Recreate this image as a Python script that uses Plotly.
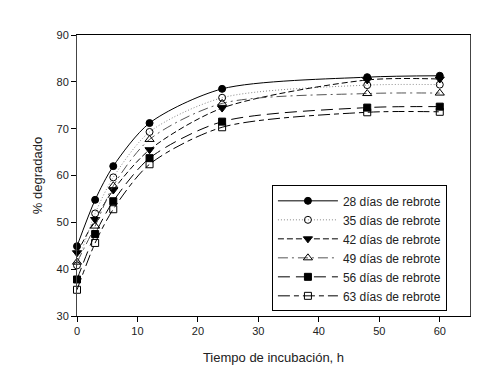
import plotly.graph_objects as go

tiempo = [0, 3, 6, 12, 24, 48, 60]
d28 = [44.9, 54.8, 62.0, 71.2, 78.5, 81.0, 81.3]
d35 = [40.8, 51.9, 59.6, 69.3, 76.6, 79.3, 79.4]
d42 = [43.5, 50.6, 56.9, 65.5, 74.4, 80.4, 80.6]
d49 = [41.5, 49.2, 57.8, 67.7, 75.4, 77.5, 77.6]
d56 = [37.8, 47.5, 54.5, 63.7, 71.5, 74.5, 74.7]
d63 = [35.6, 45.6, 52.8, 62.4, 70.3, 73.5, 73.6]

nombres = ["28 días de rebrote", "35 días de rebrote", "42 días de rebrote",
           "49 días de rebrote", "56 días de rebrote", "63 días de rebrote"]
series = [d28, d35, d42, d49, d56, d63]
simbolos = ["circle", "circle-open", "triangle-down", "triangle-up-open", "square", "square-open"]
tamanos = [7, 7, 8, 8, 7, 7]
estilos = ["solid", "1px,2px", "6px,3px", "10px,4px,2px,4px", "12px,6px", "12px,4px,5px,4px"]
colores_linea = ["black", "#888888", "black", "#555555", "black", "black"]

fig = go.Figure()
for nom, ys, sym, sz, dash, lc in zip(nombres, series, simbolos, tamanos, estilos, colores_linea):
    fig.add_trace(go.Scatter(
        x=tiempo, y=ys, name=nom, mode="lines+markers",
        line=dict(color=lc, width=1, dash=dash, shape="spline", smoothing=0.8),
        marker=dict(symbol=sym, size=sz, color="black", line=dict(color="black", width=1)),
        cliponaxis=False,
    ))

fig.update_layout(
    width=504, height=383,
    margin=dict(l=77, r=34, t=35, b=67),
    paper_bgcolor="white", plot_bgcolor="white",
    font=dict(family="Liberation Sans, Arial, sans-serif", size=11, color="#222222"),
    showlegend=True,
    legend=dict(x=0.496, y=0.465, xanchor="left", yanchor="top",
                bgcolor="white", bordercolor="black", borderwidth=1,
                itemwidth=60,
                font=dict(size=12, color="#222222"), tracegroupgap=0),
)
fig.update_xaxes(range=[0, 65], tickvals=[0, 10, 20, 30, 40, 50, 60],
                 showgrid=False, zeroline=False, showline=True, linecolor="black",
                 linewidth=1, mirror=True, ticks="outside", ticklen=5, tickcolor="black",
                 title=dict(text="Tiempo de incubación, h", font=dict(size=13), standoff=16))
fig.update_yaxes(range=[30, 90], tickvals=[30, 40, 50, 60, 70, 80, 90],
                 showgrid=False, zeroline=False, showline=True, linecolor="#444444",
                 linewidth=1, mirror=True, ticks="outside", ticklen=5, tickcolor="black",
                 title=dict(text="% degradado", font=dict(size=13), standoff=10))

fig.write_html("out.html", config={"displayModeBar": False},
               post_script="document.body.style.margin='0';")
